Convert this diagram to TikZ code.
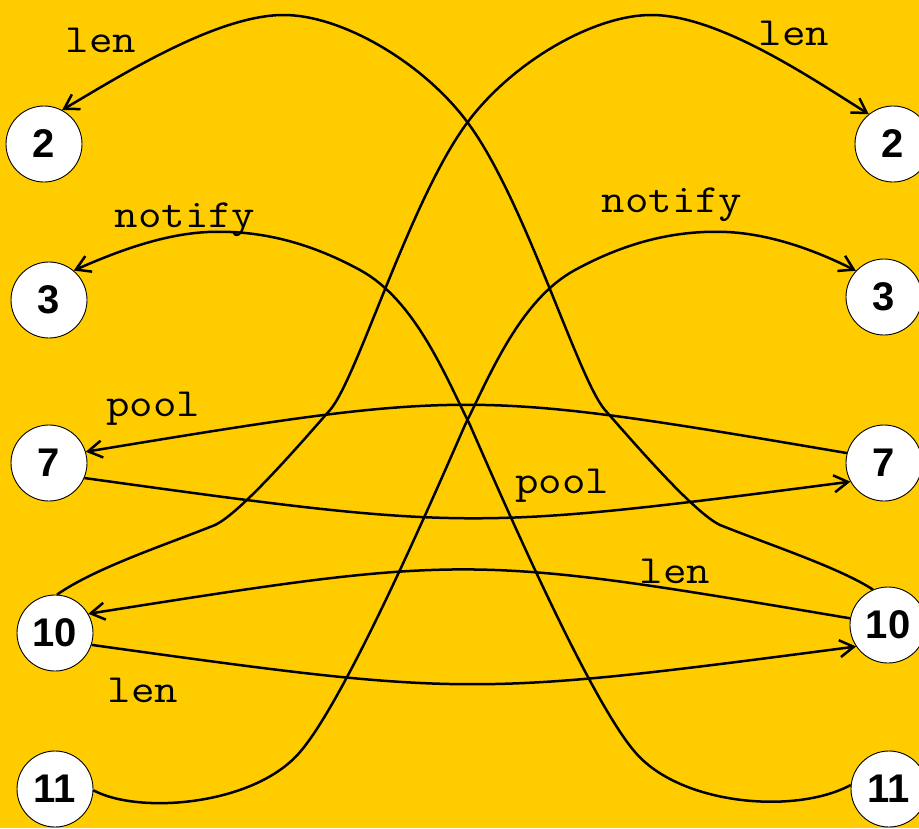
\documentclass[tikz,border=0pt]{standalone}
\usepackage{fontspec}
\usepackage{graphicx}
\setmainfont{Liberation Sans}
\usetikzlibrary{arrows.meta}
\definecolor{bg}{RGB}{255,204,0}
\newcommand\mtxt[1]{\scalebox{1.14}[1]{#1}}
\tikzset{
  state/.style={circle, draw=black, line width=0.9pt, fill=white, minimum size=76pt, inner sep=0pt,
    font=\fontsize{40}{40}\selectfont\bfseries},
  lbl/.style={font=\ttfamily\fontsize{40}{40}\selectfont, anchor=base, inner sep=0pt},
  conn/.style={line width=2.5pt, -{Straight Barb[length=14pt,width=17pt]}}
}
\begin{document}
\begin{tikzpicture}[x=1pt,y=-1pt]
\fill[bg] (0,0) rectangle (919,828);
\useasboundingbox (0,0) rectangle (919,828);

% nodes
\node[state] (L2)  at (44,144)  {2};
\node[state] (R2)  at (893,144) {2};
\node[state] (L3)  at (49,300)  {3};
\node[state] (R3)  at (884,297) {3};
\node[state] (L7)  at (49,463)  {7};
\node[state] (R7)  at (884,463) {7};
\node[state] (L10) at (55,633)  {10};
\node[state] (R10) at (888,625) {10};
\node[state] (L11) at (55,789)  {11};
\node[state] (R11) at (889,789) {11};

% labels
\node[lbl] (lenTL) at (101,52)  {\mtxt{len}};
\node[lbl] (lenTR) at (794,45)  {\mtxt{len}};
\node[lbl] (notL)  at (185,227) {\mtxt{notify}};
\node[lbl] (notR)  at (672,212) {\mtxt{notify}};
\node[lbl] (poolL) at (153,416) {\mtxt{pool}};
\node[lbl] (poolR) at (562,493) {\mtxt{pool}};
\node[lbl] (lenMR) at (675,583) {\mtxt{len}};
\node[lbl] (lenBL) at (143,702) {\mtxt{len}};

% A: L10 -> R2
\draw[conn] (L10.87) .. controls (95,568) and (165,545) .. (215,525)
  .. controls (240,513) and (295,450) .. (330,410)
  .. controls (357,379) and (410,200) .. (467,123)
  .. controls (512,62) and (595,14) .. (653,15)
  .. controls (720,16) and (811,78) .. (R2.129);

% B: R10 -> L2
\draw[conn] (R10.113) .. controls (840,568) and (770,545) .. (720,525)
  .. controls (695,513) and (640,450) .. (605,410)
  .. controls (578,379) and (525,200) .. (468,123)
  .. controls (423,62) and (340,14) .. (282,15)
  .. controls (215,16) and (120,76) .. (L2.62);

% D: L11 -> R3
\draw[conn] (L11.-2) .. controls (140,815) and (255,805) .. (300,752)
  .. controls (345,700) and (430,505) .. (465,425)
  .. controls (490,375) and (520,300) .. (575,270)
  .. controls (630,240) and (680,230) .. (727,232)
  .. controls (770,234) and (815,250) .. (R3.137);

% C: R11 -> L3
\draw[conn] (R11.174) .. controls (795,815) and (680,805) .. (635,752)
  .. controls (590,700) and (505,505) .. (470,425)
  .. controls (445,375) and (415,300) .. (360,270)
  .. controls (305,240) and (255,230) .. (208,232)
  .. controls (165,234) and (120,250) .. (L3.50);

% E: R7 -> L7
\draw[conn] (R7.165) .. controls (470,389) and (467,389) .. (L7.17);
% F: L7 -> R7
\draw[conn] (L7.337) .. controls (467,531) and (470,531) .. (R7.209);
% G: R10 -> L10
\draw[conn] (R10.170) .. controls (470,554) and (467,554) .. (L10.30);
% H: L10 -> R10
\draw[conn] (L10.342) .. controls (467,697) and (470,697) .. (R10.214);
\end{tikzpicture}
\end{document}
